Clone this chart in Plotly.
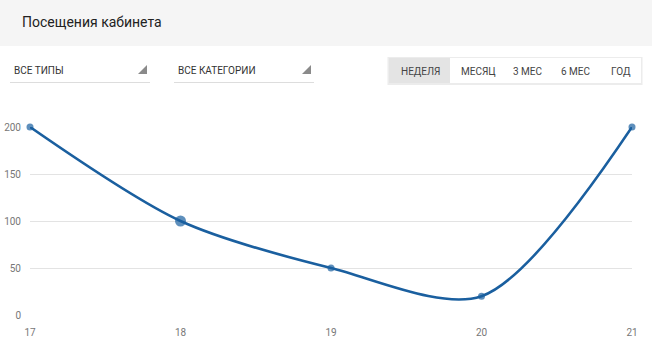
import plotly.graph_objects as go

days = [17, 18, 19, 20, 21]
visits = [200, 100, 50, 20, 200]
marker_sizes = [7, 11, 7, 7, 7]
y_ticks = [0, 50, 100, 150, 200]
title_text = "Посещения кабинета"
filters = ["ВСЕ ТИПЫ", "ВСЕ КАТЕГОРИИ"]
periods = ["НЕДЕЛЯ", "МЕСЯЦ", "3 МЕС", "6 МЕС", "ГОД"]

W, H = 652, 356
L, R, T, B = 30, 632, 127, 315

def px(x):
    return (x - L) / (R - L)

def py(y):
    return (B - y) / (B - T)

FONT = "Roboto, 'Noto Sans', sans-serif"
LINE = "#1a5f9f"

fig = go.Figure()
fig.add_trace(go.Scatter(
    x=days, y=visits, mode="lines+markers",
    line=dict(color=LINE, width=2.6, shape="spline", smoothing=0.85),
    marker=dict(color=LINE, size=marker_sizes, line=dict(width=0)),
    cliponaxis=False, hoverinfo="x+y",
))

shapes = []
annotations = []
# header band
shapes.append(dict(type="rect", xref="paper", yref="paper", x0=px(0), x1=px(W), y0=py(46), y1=py(0),
                   fillcolor="#f5f5f5", line=dict(width=0), layer="below"))
annotations.append(dict(text=title_text, xref="paper", yref="paper", x=px(20), y=py(22),
                        xanchor="left", yanchor="middle", showarrow=False,
                        font=dict(family=FONT, size=14, color="#222")))
# dropdowns
for (lx, rx), label in zip([(10, 150), (174, 314)], filters):
    annotations.append(dict(text=label, xref="paper", yref="paper", x=px(lx + 2), y=py(70),
                            xanchor="left", yanchor="middle", showarrow=False,
                            font=dict(family=FONT, size=10, color="#333")))
    shapes.append(dict(type="line", xref="paper", yref="paper", x0=px(lx), x1=px(rx), y0=py(82.5), y1=py(82.5),
                       line=dict(color="#dddddd", width=1)))
    tx1, ty1 = rx - 3, 74
    path = f"M {px(tx1)} {py(ty1)} L {px(tx1 - 9)} {py(ty1)} L {px(tx1)} {py(ty1 - 9)} Z"
    shapes.append(dict(type="path", xref="paper", yref="paper", path=path,
                       fillcolor="#8a8a8a", line=dict(width=0)))
# button group
bx0, bx1, by0, by1 = 389, 641, 58, 83
shapes.append(dict(type="rect", xref="paper", yref="paper", x0=px(bx0 - 1.5), x1=px(bx1 + 1.5),
                   y0=py(by1 + 2), y1=py(by0 - 1), fillcolor="#ececec", line=dict(width=0)))
shapes.append(dict(type="rect", xref="paper", yref="paper", x0=px(bx0), x1=px(bx1),
                   y0=py(by1), y1=py(by0), fillcolor="#ffffff", line=dict(width=0)))
shapes.append(dict(type="rect", xref="paper", yref="paper", x0=px(bx0), x1=px(450),
                   y0=py(by1), y1=py(by0), fillcolor="#e4e4e4", line=dict(width=0)))
for cx, label in zip([420, 478, 528, 576, 621], periods):
    annotations.append(dict(text=label, xref="paper", yref="paper", x=px(cx), y=py(71),
                            xanchor="center", yanchor="middle", showarrow=False,
                            font=dict(family=FONT, size=10, color="#444")))

fig.update_layout(
    width=W, height=H,
    margin=dict(l=L, r=W - R, t=T, b=H - B, autoexpand=False),
    paper_bgcolor="white", plot_bgcolor="white",
    showlegend=False,
    shapes=shapes, annotations=annotations,
    font=dict(family=FONT),
    xaxis=dict(range=[17, 21], tickvals=days, ticktext=[str(d) for d in days],
               showgrid=False, zeroline=False, showline=False, automargin=False,
               tickfont=dict(size=10, color="#777"), ticks="", ticklen=0, ticklabelstandoff=10),
    yaxis=dict(range=[0, 200], tickvals=y_ticks, showgrid=True, gridcolor="#e3e3e3",
               gridwidth=1, zeroline=False, showline=False, automargin=False,
               tickfont=dict(size=10, color="#777"), ticks="", ticklabelstandoff=8),
)

fig.write_html("out.html", config={"displayModeBar": False},
               post_script="document.body.style.margin='0';document.body.style.padding='0';document.body.style.overflow='hidden';")
